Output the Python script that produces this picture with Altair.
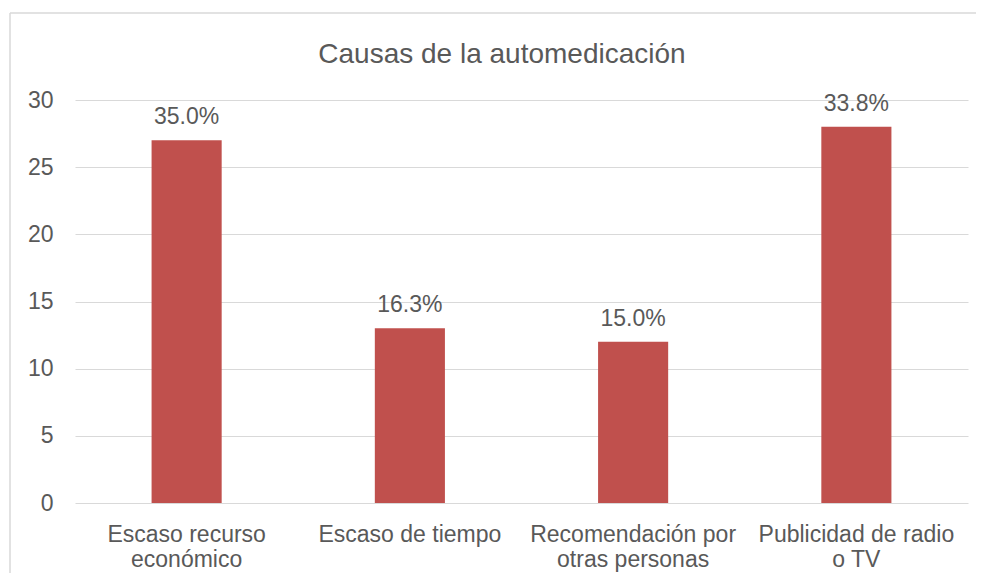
import json
import altair as alt
import pandas as pd

# ---- data ----
categories = [
    "Escaso recurso económico",
    "Escaso de tiempo",
    "Recomendación por otras personas",
    "Publicidad de radio o TV",
]
label_lines = [
    ["Escaso recurso", "económico"],
    ["Escaso de tiempo"],
    ["Recomendación por", "otras personas"],
    ["Publicidad de radio", "o TV"],
]
counts = [27, 13, 12, 28]
pct_labels = ["35.0%", "16.3%", "15.0%", "33.8%"]
y_ticks = [0, 5, 10, 15, 20, 25, 30]
title_text = "Causas de la automedicación"

FONT = "Liberation Sans"
TXT = "#595959"
GRID = "#d9d9d9"
BAR = "#C0504D"

df = pd.DataFrame({"cat": categories, "n": counts, "pct": pct_labels})

# label expression giving multi-line category labels
expr = "datum.value"
for c, lines in reversed(list(zip(categories, label_lines))):
    expr = f"datum.value == {json.dumps(c)} ? {json.dumps(lines)} : ({expr})"

W, H = 893, 403

x_enc = alt.X(
    "cat:N",
    sort=categories,
    title=None,
    scale=alt.Scale(paddingInner=0.686, paddingOuter=0.343),
    axis=alt.Axis(
        labelAngle=0,
        labelExpr=expr,
        labelFont=FONT,
        labelFontSize=23,
        labelColor=TXT,
        labelLineHeight=25,
        labelPadding=20,
        labelLimit=0,
        ticks=False,
        tickSize=0,
        domain=False,
        grid=False,
    ),
)
y_enc = alt.Y(
    "n:Q",
    title=None,
    scale=alt.Scale(domain=[0, 30], nice=False),
    axis=alt.Axis(
        values=y_ticks,
        labelFont=FONT,
        labelFontSize=23,
        labelColor=TXT,
        labelPadding=22,
        ticks=False,
        tickSize=0,
        domain=False,
        grid=True,
        gridColor=GRID,
        gridWidth=1,
    ),
)

base = alt.Chart(df)
bars = base.mark_bar(color=BAR).encode(x=x_enc, y=y_enc)
labels = base.mark_text(
    font=FONT, fontSize=23, color=TXT, baseline="alphabetic", dy=-16
).encode(x=alt.X("cat:N", sort=categories), y="n:Q", text="pct:N")

one = alt.Chart(pd.DataFrame({"k": [0]}))
border_top = one.mark_rule(color=GRID, strokeWidth=1.5).encode(
    x=alt.value(-65), x2=alt.value(W + 400), y=alt.value(-87)
)
border_left = one.mark_rule(color=GRID, strokeWidth=1.5).encode(
    x=alt.value(-65), y=alt.value(-87), y2=alt.value(H + 300)
)
title = one.mark_text(
    font=FONT, fontSize=28, color=TXT, baseline="alphabetic", align="center"
).encode(x=alt.value(427), y=alt.value(-37), text=alt.value(title_text))

chart = (
    alt.layer(border_top, border_left, bars, labels, title)
    .properties(
        width=W,
        height=H,
        autosize=alt.AutoSizeParams(type="none"),
        padding={"left": 67, "top": 92, "right": 8, "bottom": 70},
    )
    .configure_view(stroke=None)
)

chart.save("out.html", embed_options={"renderer": "svg", "actions": False})
